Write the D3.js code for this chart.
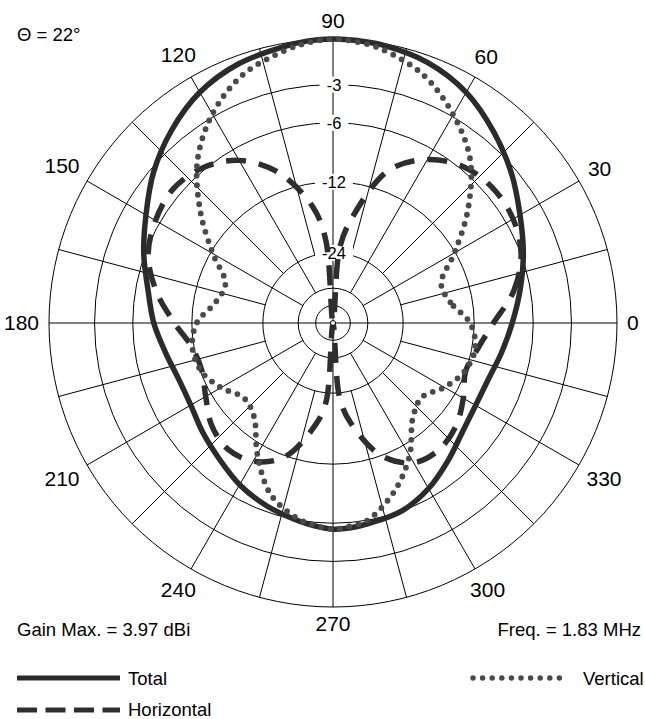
<!DOCTYPE html>
<html>
<head>
<meta charset="utf-8">
<script src="https://cdn.jsdelivr.net/npm/d3@7"></script>
<style>
  html, body { margin: 0; padding: 0; background: #fff; }
  svg { display: block; font-family: "Liberation Sans", Arial, Helvetica, sans-serif; }
</style>
</head>
<body>
<svg id="chart" width="645" height="719"></svg>
<script>
// Azimuth pattern, elevation 22 degrees: gain in dB relative to the maximum
const azimuths = [0, 10, 20, 30, 40, 50, 60, 70, 80, 85, 90, 95, 100, 110, 120, 130, 140, 150, 160, 170,
  180, 190, 200, 210, 220, 230, 240, 250, 260, 265, 270, 275, 280, 290, 300, 310, 320, 330, 340, 350];

const totalGain = [-7.9, -6.9, -5.8, -4.7, -3.4, -2.2, -1.1, -0.42, -0.1, -0.03, 0, -0.05, -0.2, -0.5, -1.1, -2.1, -3.3, -4.7, -5.9, -7.1,
  -7.9, -8.8, -9.4, -9.4, -8.8, -8.1, -7.2, -6.5, -5.95, -5.7, -5.5, -5.55, -5.7, -6.0, -6.8, -7.9, -8.9, -9.35, -9.3, -8.7];

const horizontalGain = [-9.8, -7.5, -6.0, -5.35, -5.25, -5.7, -7.0, -9.6, -17, -23, -90, -21, -15, -9.8, -7.1, -5.8, -5.3, -5.6, -6.3, -7.9,
  -10.0, -11.8, -12.2, -11.3, -10.0, -9.4, -9.9, -11.8, -17.2, -22, -90, -23, -17.7, -12.0, -9.7, -9.3, -9.8, -10.9, -12.0, -11.3];

const verticalGain = [-12.5, -14.9, -15.5, -12.1, -8.2, -4.9, -2.85, -1.25, -0.35, -0.12, 0, -0.15, -0.45, -1.25, -2.8, -5.1, -8.5, -12.3, -15.6, -14.9,
  -12.6, -11.8, -12.1, -13.5, -15.3, -14.4, -10.8, -7.6, -6.1, -5.75, -5.5, -5.7, -6.0, -7.9, -10.6, -14.2, -15.4, -13.6, -12.1, -11.6];

// Grid
const ringLevels = [0, -3, -6, -12, -24, -36, -48];
const ringLabelLevels = [-3, -6, -12, -24];
const angleTicks = d3.range(0, 360, 30);
const spokeAngles = d3.range(0, 360, 15);

// Annotations
const elevationText = "\u0398 = 22\u00B0";
const gainText = "Gain Max. = 3.97 dBi";
const freqText = "Freq. = 1.83 MHz";
const legendNames = ["Total", "Horizontal", "Vertical"];

const svg = d3.select("#chart");
const cx = 333, cy = 323, R = 284;

// ARRL log scale: radius = R * 0.89^(-dB/2), i.e. a power law on the power ratio
const rScale = d3.scalePow().exponent(0.25305).domain([0, 1]).range([0, R]);
const radius = db => rScale(Math.pow(10, db / 10));
const rad = a => a * Math.PI / 180;
const px = (a, r) => cx + r * Math.cos(rad(a));
const py = (a, r) => cy - r * Math.sin(rad(a));

const grid = svg.append("g").attr("fill", "none").attr("stroke", "#000").attr("stroke-width", 1);

// rings
grid.selectAll("circle.ring").data(ringLevels).join("circle")
  .attr("class", "ring")
  .attr("cx", cx).attr("cy", cy)
  .attr("r", d => radius(d));

// spokes: axes through the centre, 30-degree spokes from the -36 ring, the rest from the -24 ring
const spokeStart = a => a % 90 === 0 ? 0 : (a % 30 === 0 ? radius(-36) : radius(-24));
grid.selectAll("line.spoke").data(spokeAngles).join("line")
  .attr("class", "spoke")
  .attr("x1", a => px(a, spokeStart(a)))
  .attr("y1", a => py(a, spokeStart(a)))
  .attr("x2", a => px(a, R))
  .attr("y2", a => py(a, R));

// ring labels on the 90-degree spoke with a white box
const ringLab = svg.append("g").attr("font-size", 16.5).attr("text-anchor", "middle");
ringLabelLevels.forEach(lv => {
  const y = cy - radius(lv);
  const g = ringLab.append("g");
  const t = g.append("text").attr("x", cx + 1).attr("y", y + 6).attr("fill", "#000").text(String(lv));
  const w = t.node().getComputedTextLength();
  g.insert("rect", "text")
    .attr("x", cx + 1 - w / 2 - 7).attr("y", y - 8)
    .attr("width", w + 14).attr("height", 16)
    .attr("fill", "#fff");
});

// angle labels around the outside
const angLab = svg.append("g").attr("font-size", 21).attr("text-anchor", "middle").attr("fill", "#000");
angleTicks.forEach(a => {
  const t = angLab.append("text").text(String(a));
  const w = t.node().getComputedTextLength();
  const h = 15;
  const d = R + 10 + (w / 2) * Math.abs(Math.cos(rad(a))) + (h / 2) * Math.abs(Math.sin(rad(a)));
  t.attr("x", px(a, d)).attr("y", py(a, d) + h / 2 - 1);
});

// pattern curves
const idx = d3.range(azimuths.length);
const patternLine = values => d3.lineRadial()
  .angle(i => rad(90 - azimuths[i]))
  .radius(i => radius(values[i]))
  .curve(d3.curveCatmullRomClosed.alpha(0.5))(idx);

const curves = svg.append("g").attr("transform", `translate(${cx},${cy})`).attr("fill", "none");
curves.append("path").attr("d", patternLine(totalGain))
  .attr("stroke", "#2b2b2b").attr("stroke-width", 5.5);
curves.append("path").attr("d", patternLine(horizontalGain))
  .attr("stroke", "#2e2e2e").attr("stroke-width", 5.5).attr("stroke-dasharray", "20 13");
curves.append("path").attr("d", patternLine(verticalGain))
  .attr("stroke", "#4a4a4a").attr("stroke-width", 5.8).attr("stroke-linecap", "round")
  .attr("stroke-dasharray", "0 9.5");

// centre marker
svg.append("circle").attr("cx", cx).attr("cy", cy).attr("r", 2.5)
  .attr("fill", "#fff").attr("stroke", "#000").attr("stroke-width", 1);

// text annotations
const ann = svg.append("g").attr("font-size", 18.5).attr("fill", "#000");
ann.append("text").attr("x", 17).attr("y", 41).text(elevationText);
ann.append("text").attr("x", 17).attr("y", 636).text(gainText);
ann.append("text").attr("x", 641).attr("y", 636).attr("text-anchor", "end").text(freqText);

// legend
const leg = svg.append("g");
leg.append("line").attr("x1", 17).attr("x2", 120).attr("y1", 678).attr("y2", 678)
  .attr("stroke", "#2b2b2b").attr("stroke-width", 5);
leg.append("line").attr("x1", 17).attr("x2", 120).attr("y1", 710).attr("y2", 710)
  .attr("stroke", "#2e2e2e").attr("stroke-width", 5).attr("stroke-dasharray", "20 8.5");
leg.append("line").attr("x1", 473).attr("x2", 569).attr("y1", 678).attr("y2", 678)
  .attr("stroke", "#4a4a4a").attr("stroke-width", 5.5).attr("stroke-linecap", "round")
  .attr("stroke-dasharray", "0 9.6");
ann.append("text").attr("x", 128).attr("y", 685).text(legendNames[0]);
ann.append("text").attr("x", 128).attr("y", 716).text(legendNames[1]);
ann.append("text").attr("x", 583).attr("y", 685).text(legendNames[2]);
</script>
</body>
</html>
